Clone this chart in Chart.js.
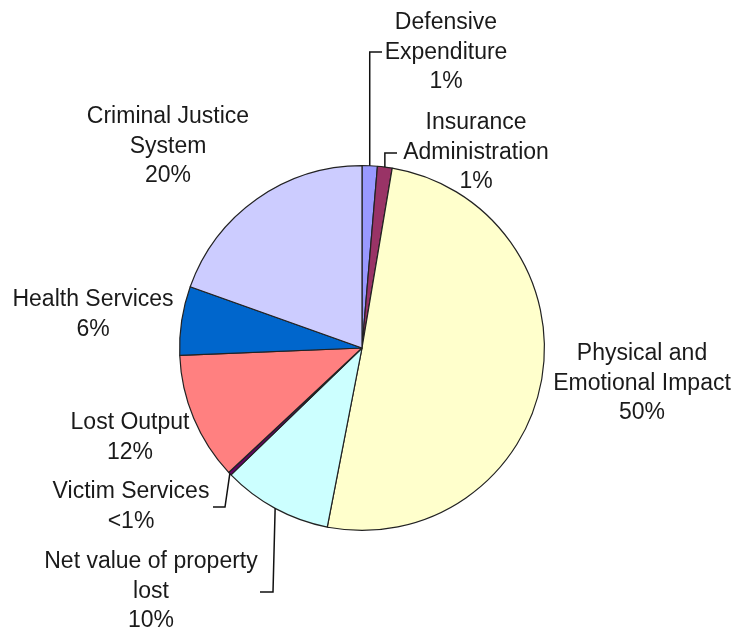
<!DOCTYPE html>
<html>
<head>
<meta charset="utf-8">
<title>Cost breakdown</title>
<script src="https://cdn.jsdelivr.net/npm/chart.js@4.4.1/dist/chart.umd.min.js"></script>
<style>
  html, body { margin: 0; padding: 0; background: #fff; }
  #wrap { width: 735px; height: 629px; }
</style>
</head>
<body>
<div id="wrap"><canvas id="pie" width="735" height="629"></canvas></div>
<script>
// data, clockwise from 12 o'clock
const categories = [
  "Defensive Expenditure",
  "Insurance Administration",
  "Physical and Emotional Impact",
  "Net value of property lost",
  "Victim Services",
  "Lost Output",
  "Health Services",
  "Criminal Justice System"
];
const shares = [1.35, 1.3, 50.4, 9.7, 0.3, 11.3, 6.1, 19.55];
const shareLabels = ["1%", "1%", "50%", "10%", "<1%", "12%", "6%", "20%"];
const sliceColors = ["#9999FF", "#993366", "#FFFFCC", "#CCFFFF", "#660066", "#FF8080", "#0066CC", "#CCCCFF"];

// label layout: text lines, centre x, first line y, optional leader (elbow + end)
const labelLayout = [
  { lines: ["Defensive", "Expenditure", "1%"], x: 446, y: 23, leader: { ex: null, ey: 52, tx: 382 } },
  { lines: ["Insurance", "Administration", "1%"], x: 476, y: 123, leader: { ex: null, ey: 153, tx: 397 } },
  { lines: ["Physical and", "Emotional Impact", "50%"], x: 642, y: 354 },
  { lines: ["Net value of property", "lost", "10%"], x: 151, y: 562, leader: { ex: 273, ey: 592, tx: 260 } },
  { lines: ["Victim Services", "<1%"], x: 131, y: 492, leader: { ex: 225, ey: 507, tx: 213 } },
  { lines: ["Lost Output", "12%"], x: 130, y: 423 },
  { lines: ["Health Services", "6%"], x: 93, y: 300 },
  { lines: ["Criminal Justice", "System", "20%"], x: 168, y: 117 }
];

const labelPlugin = {
  id: "sliceLabels",
  afterDatasetsDraw(chart) {
    const ctx = chart.ctx;
    const arcs = chart.getDatasetMeta(0).data;
    ctx.save();
    ctx.font = "23px 'Liberation Sans', Arial, sans-serif";
    ctx.fillStyle = "#1a1a1a";
    ctx.textAlign = "center";
    ctx.textBaseline = "middle";
    labelLayout.forEach((lab, i) => {
      lab.lines.forEach((t, k) => ctx.fillText(t, lab.x, lab.y + k * 29.5));
      if (lab.leader) {
        const a = arcs[i];
        const mid = (a.startAngle + a.endAngle) / 2;
        const sx = a.x + Math.cos(mid) * a.outerRadius;
        const sy = a.y + Math.sin(mid) * a.outerRadius;
        const ex = lab.leader.ex === null ? sx : lab.leader.ex;
        ctx.beginPath();
        ctx.strokeStyle = "#111";
        ctx.lineWidth = 1.5;
        ctx.moveTo(sx, sy);
        ctx.lineTo(ex, lab.leader.ey);
        ctx.lineTo(lab.leader.tx, lab.leader.ey);
        ctx.stroke();
      }
    });
    ctx.restore();
  }
};

new Chart(document.getElementById("pie"), {
  type: "pie",
  data: {
    labels: categories,
    datasets: [{
      data: shares,
      backgroundColor: sliceColors,
      borderColor: "#222",
      borderWidth: 1.2
    }]
  },
  options: {
    responsive: false,
    animation: false,
    devicePixelRatio: 1,
    layout: { padding: { left: 179, right: 190, top: 165, bottom: 98 } },
    plugins: {
      legend: { display: false },
      tooltip: { enabled: false }
    }
  },
  plugins: [labelPlugin]
});
</script>
</body>
</html>
